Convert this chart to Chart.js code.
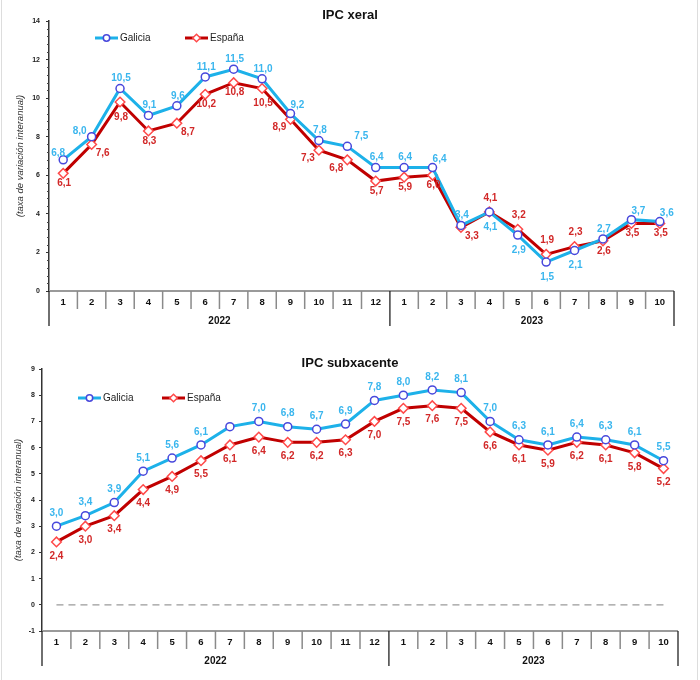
<!DOCTYPE html>
<html>
<head>
<meta charset="utf-8">
<script src="https://cdn.jsdelivr.net/npm/chart.js@4.4.1/dist/chart.umd.min.js"></script>
<style>
  html, body { margin: 0; padding: 0; background: #fff; }
  #wrap { position: relative; width: 700px; height: 680px; }
  .box { position: absolute; left: 0; width: 700px; height: 340px; }
  #b1 { top: 0; }
  #b2 { top: 340px; }
  #wrap:after { content: ''; position: absolute; left: 1px; top: 0; width: 695px; height: 680px;
    border-left: 1px solid #ddd; border-right: 1px solid #ddd; pointer-events: none; }
</style>
</head>
<body>
<div id="wrap">
  <div class="box" id="b1"><canvas id="c1" width="700" height="340"></canvas></div>
  <div class="box" id="b2"><canvas id="c2" width="700" height="340"></canvas></div>
</div>
<script>
const months = ['1','2','3','4','5','6','7','8','9','10','11','12','1','2','3','4','5','6','7','8','9','10'];
const yearLabels = ['2022', '2023'];
const monthsPerYear = [12, 10];

const galiciaXeral = [6.8, 8.0, 10.5, 9.1, 9.6, 11.1, 11.5, 11.0, 9.2, 7.8, 7.5, 6.4, 6.4, 6.4, 3.4, 4.1, 2.9, 1.5, 2.1, 2.7, 3.7, 3.6];
const espanaXeral  = [6.1, 7.6, 9.8, 8.3, 8.7, 10.2, 10.8, 10.5, 8.9, 7.3, 6.8, 5.7, 5.9, 6.0, 3.3, 4.1, 3.2, 1.9, 2.3, 2.6, 3.5, 3.5];
const galiciaSub   = [3.0, 3.4, 3.9, 5.1, 5.6, 6.1, 6.8, 7.0, 6.8, 6.7, 6.9, 7.8, 8.0, 8.2, 8.1, 7.0, 6.3, 6.1, 6.4, 6.3, 6.1, 5.5];
const espanaSub    = [2.4, 3.0, 3.4, 4.4, 4.9, 5.5, 6.1, 6.4, 6.2, 6.2, 6.3, 7.0, 7.5, 7.6, 7.5, 6.6, 6.1, 5.9, 6.2, 6.1, 5.8, 5.2];

// where each value label sits relative to its point ('' = no label)
const galiciaXeralPos = ['nw','w','n','n','n','n','n','n','ne','n','NE','n','n','ne','n','S','S','S','S','n','ne','ne'];
const espanaXeralPos  = ['s','se','S','s','se','s','s','S','sw','sw','sw','s','s','s','se','N','N','N','N','s','s','s'];
const galiciaSubPos = ['n','n','n','n','n','n','','n','n','n','n','n','n','n','n','n','n','n','n','n','n','n'];
const espanaSubPos  = ['s','s','s','s','s','s','s','s','s','s','s','s','s','s','s','s','s','s','s','s','s','s'];

const GAL_LINE = '#1db1e9', GAL_PT = '#4848dc', GAL_TXT = '#3ab6ee';
const ESP_LINE = '#c00000', ESP_PT = '#ff4a4a', ESP_TXT = '#d22828';
const FONT = '"Liberation Sans", Arial, sans-serif';

const fmt = v => v.toFixed(1).replace('.', ',');

const pointLabels = {
  id: 'pointLabels',
  afterDatasetsDraw(chart, args, opts) {
    const ctx = chart.ctx;
    ctx.save();
    ctx.font = 'bold 10px ' + FONT;
    ctx.textAlign = 'center';
    ctx.textBaseline = 'middle';
    chart.data.datasets.forEach((ds, di) => {
      const meta = chart.getDatasetMeta(di);
      ctx.fillStyle = opts.colors[di];
      meta.data.forEach((pt, i) => {
        const code = opts.pos[di][i];
        if (!code) return;
        const o = opts.offsets[code];
        ctx.fillText(fmt(ds.data[i]), pt.x + o[0], pt.y + o[1]);
      });
    });
    ctx.restore();
  }
};

function marker(ctx, kind, x, y, r, color) {
  ctx.save();
  ctx.fillStyle = '#fff';
  ctx.strokeStyle = color;
  ctx.lineWidth = 1.5;
  ctx.beginPath();
  if (kind === 'circle') ctx.arc(x, y, r, 0, Math.PI * 2);
  else { ctx.moveTo(x, y - r); ctx.lineTo(x + r, y); ctx.lineTo(x, y + r); ctx.lineTo(x - r, y); ctx.closePath(); }
  ctx.fill(); ctx.stroke();
  ctx.restore();
}

const axisFrame = {
  id: 'axisFrame',
  beforeDatasetsDraw(chart, args, o) {
    const {ctx, chartArea: a, scales: {x, y}} = chart;
    if (o.zeroLine) {
      const yy = y.getPixelForValue(0);
      ctx.save();
      ctx.strokeStyle = '#9a9a9a'; ctx.lineWidth = 1.2; ctx.setLineDash([7, 5]);
      ctx.beginPath();
      ctx.moveTo(x.getPixelForValue(0), yy);
      ctx.lineTo(x.getPixelForValue(months.length - 1), yy);
      ctx.stroke();
      ctx.restore();
    }
  },
  afterDraw(chart, args, o) {
    const {ctx, chartArea: a, scales: {x, y}} = chart;
    const cw = x.getPixelForValue(1) - x.getPixelForValue(0);
    const edge = i => x.getPixelForValue(i) - cw / 2;
    const b = a.bottom;
    const seg = (x1, y1, x2, y2) => { ctx.beginPath(); ctx.moveTo(x1, y1); ctx.lineTo(x2, y2); ctx.stroke(); };
    ctx.save();

    if (o.minorStep) {
      ctx.strokeStyle = '#444'; ctx.lineWidth = 1;
      for (let k = 1; k * o.minorStep < y.max - 1e-6; k++) {
        const v = k * o.minorStep;
        if (Math.abs(v / 2 - Math.round(v / 2)) < 1e-6) continue;
        const yy = Math.round(y.getPixelForValue(v)) + 0.5;
        seg(a.left - 2, yy, a.left, yy);
      }
    }

    ctx.strokeStyle = '#9a9a9a'; ctx.lineWidth = 2;
    seg(a.left, b, a.right, b);

    const bounds = [0];
    monthsPerYear.forEach(n => bounds.push(bounds[bounds.length - 1] + n));
    ctx.strokeStyle = '#8a8a8a'; ctx.lineWidth = 1.5;
    for (let i = 1; i < months.length; i++) {
      if (bounds.includes(i)) continue;
      seg(edge(i), b, edge(i), b + 18);
    }
    ctx.strokeStyle = '#222'; ctx.lineWidth = 1.3;
    bounds.forEach(i => seg(edge(i), b, edge(i), b + 35));

    ctx.fillStyle = '#111';
    ctx.textAlign = 'center';
    ctx.textBaseline = 'middle';
    ctx.font = 'bold 9.5px ' + FONT;
    months.forEach((m, i) => ctx.fillText(m, x.getPixelForValue(i), b + 11));
    ctx.font = 'bold 10px ' + FONT;
    yearLabels.forEach((yl, k) => ctx.fillText(yl, (edge(bounds[k]) + edge(bounds[k + 1])) / 2, b + 30));

    ctx.textBaseline = 'alphabetic';
    ctx.font = 'bold 13px ' + FONT;
    ctx.fillText(o.title, chart.width / 2, o.titleY);

    // legend
    ctx.font = '10px ' + FONT;
    ctx.textAlign = 'left';
    ctx.textBaseline = 'middle';
    chart.data.datasets.forEach((ds, di) => {
      const lx = o.legendX[di], ly = o.legendY;
      ctx.strokeStyle = ds.borderColor; ctx.lineWidth = 3;
      seg(lx, ly, lx + 23, ly);
      marker(ctx, ds.pointStyle === 'circle' ? 'circle' : 'diamond', lx + 11.5, ly, ds.pointStyle === 'circle' ? 3.2 : 3.8, ds.pointBorderColor);
      ctx.fillStyle = '#222';
      ctx.fillText(ds.label, lx + 25, ly + 0.5);
    });
    ctx.restore();
  }
};

function datasets(gal, esp) {
  return [
    { label: 'Galicia', data: gal, borderColor: GAL_LINE, borderWidth: 3, pointStyle: 'circle',
      pointRadius: 4, pointBorderWidth: 1.5, pointBorderColor: GAL_PT, pointBackgroundColor: '#fff', tension: 0 },
    { label: 'España', data: esp, borderColor: ESP_LINE, borderWidth: 3, pointStyle: 'rectRot',
      pointRadius: 4.8, pointBorderWidth: 1.5, pointBorderColor: ESP_PT, pointBackgroundColor: '#fff', tension: 0 }
  ];
}

function yAxis(min, max, step, width, labelPad, titlePad) {
  return {
    min, max,
    ticks: { stepSize: step, color: '#222', padding: labelPad, font: { family: FONT, size: 7, weight: 'bold' } },
    grid: { drawOnChartArea: false, tickLength: 3, color: '#333', lineWidth: 1 },
    border: { color: '#333', width: 1.5 },
    title: { display: true, text: '(taxa de variación interanual)', color: '#333',
      font: { family: FONT, size: 9.5, style: 'italic' }, padding: { top: titlePad, bottom: 0 } },
    afterFit: s => { s.width = width; }
  };
}

function build(id, gal, esp, galPos, espPos, opt) {
  new Chart(document.getElementById(id), {
    type: 'line',
    data: { labels: months, datasets: datasets(gal, esp) },
    options: {
      responsive: false,
      animation: false,
      devicePixelRatio: 1,
      layout: { padding: { top: opt.top, right: opt.right, bottom: 49, left: 0 } },
      scales: {
        x: { type: 'category', offset: true, display: false },
        y: yAxis(opt.min, opt.max, opt.step, opt.yWidth, opt.labelPad, opt.titlePad)
      },
      plugins: {
        legend: { display: false },
        tooltip: { enabled: false },
        pointLabels: { pos: [galPos, espPos], colors: [GAL_TXT, ESP_TXT], offsets: opt.offsets },
        axisFrame: { title: opt.title, titleY: opt.titleY, legendX: opt.legendX, legendY: opt.legendY,
          minorStep: opt.minorStep, zeroLine: opt.zeroLine }
      }
    },
    plugins: [axisFrame, pointLabels]
  });
}

build('c1', galiciaXeral, espanaXeral, galiciaXeralPos, espanaXeralPos, {
  title: 'IPC xeral', titleY: 18.5, min: 0, max: 14, step: 2, minorStep: 0.4, zeroLine: false,
  top: 21, right: 26, yWidth: 49, labelPad: 6, titlePad: 14.5,
  legendX: [95, 185], legendY: 38,
  offsets: { n: [1, -10], N: [1, -14], s: [1, 10], S: [1, 15], ne: [7, -8], NE: [14, -10],
    nw: [-5, -7], w: [-12, -5], se: [11, 9], sw: [-11, 8] }
});

build('c2', galiciaSub, espanaSub, galiciaSubPos, espanaSubPos, {
  title: 'IPC subxacente', titleY: 27.3, min: -1, max: 9, step: 1, minorStep: 0, zeroLine: true,
  top: 29, right: 22, yWidth: 42, labelPad: 4, titlePad: 12.5,
  legendX: [78, 162], legendY: 58,
  offsets: { n: [0, -13], s: [0, 14] }
});
</script>
</body>
</html>
